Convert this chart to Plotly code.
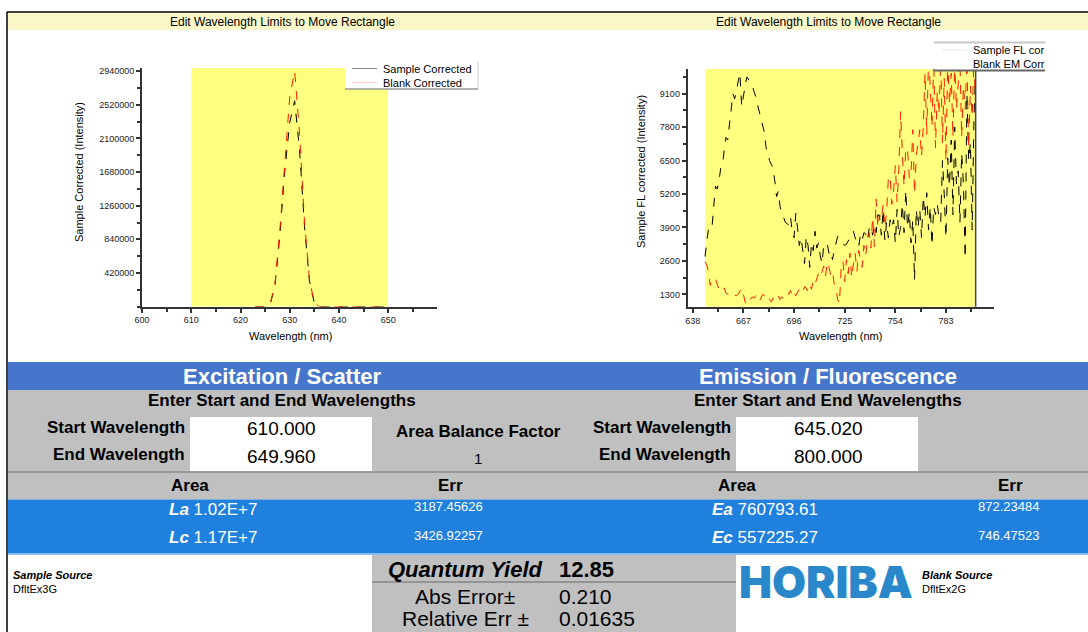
import plotly.graph_objects as go

W, H = 1088, 632
FONT = "Liberation Sans, Arial, sans-serif"

# ---------------- Excitation / scatter spectra (nm, intensity) ----------------
ex_wavelength = list(range(623, 651))
ex_sample = [0, 0, 0, 20000, 260000, 900000, 1700000, 2300000, 2570000, 1950000,
             1000000, 320000, 40000, 0, 0, 0, 0, 0, 0, 0,
             0, 0, 0, 0, 0, 0, 0, 0]
ex_blank = [0, 0, 0, 25000, 290000, 960000, 1820000, 2620000, 2940000, 2150000,
            1060000, 340000, 45000, 0, 0, 0, 0, 0, 0, 0,
            0, 0, 0, 0, 0, 0, 0, 0]

# ---------------- Emission / fluorescence spectra (nm, intensity) -------------
em_wavelength = list(range(645, 801))
em_sample = [2770, 3300, 3850, 3950, 3900, 4700, 5500, 5400, 5700, 6200,
             6300, 6900, 7400, 7300, 7900, 8600, 9100, 8900, 9250, 9500,
             9900, 8600, 9100, 9400, 9750, 9650, 9500, 9450, 9200, 9000,
             8700, 8400, 8100, 7800, 7600, 7000, 6700, 6500, 6350, 6200,
             5700, 5100, 5300, 4700, 4500, 4300, 4100, 4050, 4000, 4300,
             3700, 3500, 4450, 3900, 3200, 3500, 3000, 2500, 3550, 3200,
             2350, 3300, 3000, 3750, 3100, 3300, 2800, 2500, 3200, 3300,
             3250, 2900, 3000, 2650, 3000, 3350, 3550, 3500, 3400, 3300,
             3200, 3250, 3400, 3500, 3600, 3750, 3500, 3300, 3150, 3600,
             3400, 3700, 3650, 3400, 3850, 3950, 3600, 4000, 3700, 4400,
             4300, 3600, 4600, 3400, 4100, 3500, 4200, 3900, 4200, 3300,
             4600, 3550, 3900, 4800, 3700, 5350, 3900, 4500, 3300, 4200,
             1850, 4600, 3900, 4600, 3500, 5100, 4300, 5250, 3800, 4700,
             3200, 4700, 4400, 4800, 4300, 4100, 6500, 5200, 3500, 6600,
             5500, 7300, 4400, 7800, 5600, 6100, 4100, 6800, 5600, 2700,
             9100, 6500, 7200, 3800, 8100, 10000]
em_blank = [2570, 2450, 2200, 1650, 1850, 1950, 1900, 1650, 1500, 1450,
            1400, 1550, 1350, 1300, 1250, 1200, 1150, 1250, 1250, 1300,
            1450, 1550, 1300, 1000, 880, 950, 1100, 1200, 1150, 1250,
            1100, 1000, 1150, 1300, 1250, 1200, 1300, 1100, 1000, 1150,
            1300, 1350, 1200, 1100, 1200, 1150, 1250, 1400, 1300, 1450,
            1200, 1350, 1250, 1400, 1500, 1450, 1350, 1600, 1550, 1400,
            1650, 1500, 1850, 1700, 1900, 2100, 1950, 2200, 2400, 2000,
            2550, 2350, 2050, 2200, 1700, 1550, 1100, 950, 2350, 2600,
            1800, 2650, 2100, 2900, 1950, 2500, 2900, 2200, 3000, 2700,
            2350, 3200, 2800, 3400, 3700, 3100, 4300, 3150, 5000, 3900,
            4400, 4200, 4800, 3900, 4500, 5800, 5900, 4800, 5300, 6300,
            4900, 6150, 8400, 6800, 5500, 7000, 6900, 5800, 6000, 7700,
            5200, 6700, 7200, 7700, 6650, 7800, 9900, 7500, 10400, 9400,
            7800, 10400, 7000, 9200, 8300, 10400, 7200, 9700, 6500, 10400,
            8700, 9900, 7400, 10400, 8500, 9300, 10400, 7400, 9400, 8500,
            10400, 7000, 9400, 8200, 10400, 8500]

# ---------------- Integration windows and results ----------------
ex_window = (610.000, 649.960)
em_window = (645.020, 800.000)
area_balance_factor = "1"
ex_areas = [("La", "1.02E+7", "3187.45626"), ("Lc", "1.17E+7", "3426.92257")]
em_areas = [("Ea", "760793.61", "872.23484"), ("Ec", "557225.27", "746.47523")]
quantum_yield = "12.85"
abs_error = "0.210"
relative_error = "0.01635"
sample_source = "DfltEx3G"
blank_source = "DfltEx2G"

ex_xticks = [600, 610, 620, 630, 640, 650]
ex_yticks = [420000, 840000, 1260000, 1680000, 2100000, 2520000, 2940000]
em_xticks = [638, 667, 696, 725, 754, 783]
em_yticks = [1300, 2600, 3900, 5200, 6500, 7800, 9100]


def X(px):
    return px / W


def Y(py):
    return 1 - py / H


fig = go.Figure()

fig.add_trace(go.Scatter(x=ex_wavelength, y=ex_sample, mode="lines", name="Sample Corrected",
                         line=dict(color="black", width=1, dash="dash"), xaxis="x", yaxis="y"))
fig.add_trace(go.Scatter(x=ex_wavelength, y=ex_blank, mode="lines", name="Blank Corrected",
                         line=dict(color="#ff1a00", width=1, dash="dash"), xaxis="x", yaxis="y"))
fig.add_trace(go.Scatter(x=em_wavelength, y=em_sample, mode="lines", name="Sample FL corrected",
                         line=dict(color="black", width=1, dash="dash"), xaxis="x2", yaxis="y2"))
fig.add_trace(go.Scatter(x=em_wavelength, y=em_blank, mode="lines", name="Blank EM Corrected",
                         line=dict(color="#ff1a00", width=1, dash="dash"), xaxis="x2", yaxis="y2"))

axis_common = dict(showline=True, linecolor="#333", linewidth=2, showgrid=False, zeroline=False,
                   automargin=False,
                   ticks="outside", ticklen=4, tickwidth=1.5, tickcolor="#333",
                   tickfont=dict(size=9, color="#222", family=FONT))

fig.update_layout(
    template="none",
    width=W, height=H, margin=dict(l=0, r=0, t=0, b=0, pad=0, autoexpand=False),
    paper_bgcolor="white", plot_bgcolor="white", showlegend=False,
    xaxis=dict(domain=[X(142), X(437)], range=[600, 659.9], tickmode="array", tickvals=ex_xticks,
               minor=dict(ticks="outside", ticklen=3, tickcolor="#333", tickmode="linear", tick0=600, dtick=5),
               anchor="y", **axis_common),
    yaxis=dict(domain=[Y(306.6), Y(68)], range=[0, 2980000], tickmode="array", tickvals=ex_yticks,
               tickformat="d",
               minor=dict(ticks="outside", ticklen=3, tickcolor="#333", tickmode="linear", tick0=0, dtick=210000),
               anchor="x", **axis_common),
    xaxis2=dict(domain=[X(687.7), X(994)], range=[635.1, 810.5], tickmode="array", tickvals=em_xticks,
                minor=dict(ticks="outside", ticklen=3, tickcolor="#333", tickmode="linear", tick0=638, dtick=14.5),
                anchor="y2", **axis_common),
    yaxis2=dict(domain=[Y(306.7), Y(69)], range=[820, 10060], tickmode="array", tickvals=em_yticks,
                minor=dict(ticks="outside", ticklen=3, tickcolor="#333", tickmode="linear", tick0=0, dtick=650),
                anchor="x2", **axis_common),
)

shapes = []
annotations = []


def rect(x0, y0, x1, y1, fill, layer="below"):
    shapes.append(dict(type="rect", xref="paper", yref="paper", x0=X(x0), x1=X(x1), y0=Y(y1), y1=Y(y0),
                       fillcolor=fill, line=dict(width=0), layer=layer))


def hline(x0, x1, y, color, width=1, layer="above"):
    shapes.append(dict(type="line", xref="paper", yref="paper", x0=X(x0), x1=X(x1), y0=Y(y), y1=Y(y),
                       line=dict(color=color, width=width), layer=layer))


def vline(x, y0, y1, color, width=1, layer="above"):
    shapes.append(dict(type="line", xref="paper", yref="paper", x0=X(x), x1=X(x), y0=Y(y0), y1=Y(y1),
                       line=dict(color=color, width=width), layer=layer))


def note(text, px, py, size, color="black", xanchor="center", angle=0):
    annotations.append(dict(text=text, x=X(px), y=Y(py), xref="paper", yref="paper",
                            xanchor=xanchor, yanchor="middle", showarrow=False, textangle=angle,
                            font=dict(size=size, color=color, family=FONT)))


# integration rectangles
shapes.append(dict(type="rect", xref="x", yref="y domain", x0=ex_window[0], x1=ex_window[1], y0=0, y1=1,
                   fillcolor="#ffff80", line=dict(width=0), layer="below"))
shapes.append(dict(type="rect", xref="x2", yref="y2 domain", x0=em_window[0], x1=em_window[1], y0=0, y1=1,
                   fillcolor="#ffff80", line=dict(width=0), layer="below"))
shapes.append(dict(type="line", xref="x2", yref="y2 domain", x0=em_window[1], x1=em_window[1], y0=0, y1=1,
                   line=dict(color="#444", width=1.5), layer="above"))

# title band and frame
rect(8, 13, 1088, 30, "#faf8c8")
hline(7, 1088, 12, "black", 1.5)
vline(7, 12, 632, "black", 1.5)
note("Edit Wavelength Limits to Move Rectangle", 282, 22, 12)
note("Edit Wavelength Limits to Move Rectangle", 828, 22, 12)

# axis titles
note("Sample Corrected (Intensity)", 79, 172, 11, angle=-90)
note("Wavelength (nm)", 290, 336, 11)
note("Sample FL corrected (Intensity)", 641, 172, 11, angle=-90)
note("Wavelength (nm)", 840, 336, 11)

# legend, excitation chart
rect(345, 62, 478, 89, "white", layer="above")
hline(345, 478, 89, "#999", 1.5)
vline(478, 62, 89, "#ccc", 1)
hline(352, 377, 68.5, "#888", 1)
hline(352, 377, 82.5, "#ffd0c8", 1)
note("Sample Corrected", 381, 68.5, 11, xanchor="left")
note("Blank Corrected", 381, 82.5, 11, xanchor="left")

# legend, emission chart (clipped at the panel edge)
rect(934, 42, 1045, 71, "white", layer="above")
hline(934, 1045, 42.5, "#c8c8c8", 2)
hline(934, 1045, 70.5, "#666", 2)
hline(942, 967, 50, "#e6e6e6", 1)
note("Sample FL cor", 971, 50, 11, xanchor="left")
note("Blank EM Corr", 971, 64, 11, xanchor="left")

# ---------------- results table ----------------
HEAD_BLUE = "#4576cc"
ROW_BLUE = "#2080de"
GRAY = "#c0c0c0"

rect(8, 362, 1088, 390, HEAD_BLUE)
rect(8, 390, 1088, 499.5, GRAY)
hline(8, 1088, 472, "#777", 1)
rect(8, 499.5, 1088, 553, ROW_BLUE)
hline(8, 1088, 554, "#8cbcec", 2)
rect(190, 417, 372, 471, "white")
rect(736, 417, 918, 471, "white")

note("<b>Excitation / Scatter</b>", 282, 376.5, 22, color="white")
note("<b>Emission / Fluorescence</b>", 828, 376.5, 22, color="white")
note("<b>Enter Start and End Wavelengths</b>", 282, 400, 17)
note("<b>Enter Start and End Wavelengths</b>", 828, 400, 17)

note("<b>Start Wavelength</b>", 187, 428, 17, xanchor="right")
note("<b>End Wavelength</b>", 187, 455, 17, xanchor="right")
note(f"{ex_window[0]:.3f}", 281, 429, 19)
note(f"{ex_window[1]:.3f}", 281, 456, 19)
note("<b>Area Balance Factor</b>", 478, 431, 17)
note(area_balance_factor, 478, 458, 15)

note("<b>Start Wavelength</b>", 733, 428, 17, xanchor="right")
note("<b>End Wavelength</b>", 733, 455, 17, xanchor="right")
note(f"{em_window[0]:.3f}", 828, 429, 19)
note(f"{em_window[1]:.3f}", 828, 456, 19)

note("<b>Area</b>", 190, 485, 17)
note("<b>Err</b>", 450, 485, 17)
note("<b>Area</b>", 737, 485, 17)
note("<b>Err</b>", 1010, 485, 17)

for i, (lab, area, err) in enumerate(ex_areas):
    note(f"<b><i>{lab}</i></b> {area}", 213, 509 + 28 * i, 17, color="white")
    note(err, 448, 507 + 28 * i, 13, color="white")
for i, (lab, area, err) in enumerate(em_areas):
    note(f"<b><i>{lab}</i></b> {area}", 765, 509 + 28 * i, 17, color="white")
    note(err, 1008, 507 + 28 * i, 13, color="white")

# quantum yield box
rect(372, 555, 736, 632, GRAY)
hline(372, 736, 582, "#666", 1)
note("<b><i>Quantum Yield</i></b>", 465, 569, 22)
note(f"<b>{quantum_yield}</b>", 557, 569, 22, xanchor="left")
note("Abs Error±", 465, 596, 21)
note(abs_error, 557, 596, 21, xanchor="left")
note("Relative Err ±", 465, 618, 21)
note(relative_error, 557, 618, 21, xanchor="left")

# sources and logo
note("<b><i>Sample Source</i></b>", 11, 575, 11, xanchor="left")
note(sample_source, 11, 589, 11, xanchor="left")
annotations.append(dict(text="HORIBA", x=X(826), y=Y(582), xref="paper", yref="paper",
                        xanchor="center", yanchor="middle", showarrow=False,
                        font=dict(size=44, color="#2a88ca", family="Inter, DejaVu Sans, sans-serif",
                                  weight=900)))
note("<b><i>Blank Source</i></b>", 920, 575, 11, xanchor="left")
note(blank_source, 920, 589, 11, xanchor="left")

fig.update_layout(shapes=shapes, annotations=annotations)

# pin the fixed-size figure to the page corner
page_reset = ("document.body.style.margin='0';document.body.style.padding='0';"
              "document.body.style.overflow='hidden';")
fig.write_html("out.html", config={"displayModeBar": False}, post_script=page_reset)
